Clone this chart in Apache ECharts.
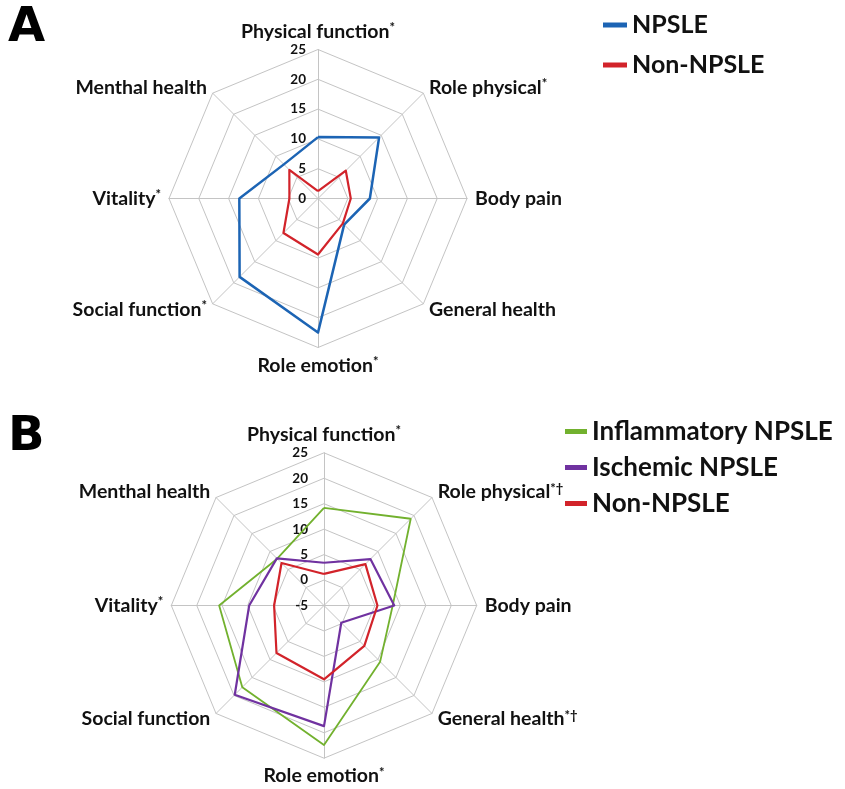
<!DOCTYPE html>
<html>
<head>
<meta charset="utf-8">
<script src="https://cdn.jsdelivr.net/npm/echarts@6/dist/echarts.min.js"></script>
<style>html,body{margin:0;padding:0;background:#fff}#c{width:845px;height:789px}</style>
</head>
<body>
<div id="c"></div>
<script>
// Axes listed clockwise from the top, as in the figure
const axesA = ['Physical function', 'Role physical', 'Body pain', 'General health', 'Role emotion', 'Social function', 'Vitality', 'Menthal health'];
const supA  = ['*', '*', '', '', '*', '*', '*', ''];
const axesB = ['Physical function', 'Role physical', 'Body pain', 'General health', 'Role emotion', 'Social function', 'Vitality', 'Menthal health'];
const supB  = ['*', '*\u2020', '', '*\u2020', '*', '', '*', ''];

const npsleA    = [10.3, 14.5, 8.7, 6.2, 22.5, 18.6, 13.2, 8.1];
const nonNpsleA = [1.25, 6.6, 5.5, 5.9, 9.4, 8.2, 4.8, 6.8];

const inflamB   = [14.2, 19.1, 8.5, 10.6, 22.4, 17.7, 15.6, 8.0];
const ischemB   = [3.4, 7.9, 8.8, -0.2, 18.7, 19.8, 9.7, 8.1];
const nonNpsleB = [1.2, 6.5, 5.5, 6.2, 9.5, 8.2, 4.8, 6.8];

const rangeA = [0, 25, 5];
const rangeB = [-5, 25, 5];

// ECharts places radar indicators counter-clockwise: reorder
const order = [0, 7, 6, 5, 4, 3, 2, 1];
const re = arr => order.map(i => arr[i]);

const FONT = 'Lato';
const grid = '#c4c4c4';

function radarCfg(axes, sup, range, center, radius) {
  return {
    center: center, radius: radius, shape: 'polygon', startAngle: 90,
    splitNumber: (range[1] - range[0]) / range[2],
    indicator: re(axes.map((n, i) => ({
      name: sup[i] ? n + '{s|' + sup[i] + '}' : n, min: range[0], max: range[1]
    }))),
    axisName: {
      color: '#111', fontFamily: FONT, fontWeight: 'bold', fontSize: 19.5,
      rich: { s: { fontSize: 13, fontFamily: FONT, fontWeight: 'bold', color: '#111', verticalAlign: 'top', lineHeight: 15 } }
    },
    nameGap: 8,
    axisLine: { lineStyle: { color: grid, width: 1 } },
    splitLine: { lineStyle: { color: grid, width: 1 } },
    splitArea: { show: false },
    axisTick: { show: false },
    axisLabel: { show: false }
  };
}

const chart = echarts.init(document.getElementById('c'), null, { renderer: 'canvas' });
const A = { cx: 318, cy: 198.5, r: 149 };
const B = { cx: 324, cy: 605.5, r: 152.7 };

const option = {
  backgroundColor: '#fff',
  animation: false,
  title: [
    { text: 'A', left: 3, top: 0, textStyle: { fontFamily: 'DejaVu Sans', fontWeight: 900, fontSize: 48, color: '#000' } },
    { text: 'B', left: 3, top: 409, textStyle: { fontFamily: 'DejaVu Sans', fontWeight: 900, fontSize: 48, color: '#000' } }
  ],
  legend: [
    { data: ['NPSLE', 'Non-NPSLE'], orient: 'vertical', left: 598, top: 5, icon: 'rect',
      itemWidth: 24, itemHeight: 5, itemGap: 10, selectedMode: false,
      textStyle: { fontFamily: FONT, fontWeight: 'bold', fontSize: 25, color: '#111', lineHeight: 30 } },
    { data: ['Inflammatory NPSLE', 'Ischemic NPSLE', { name: 'Non-NPSLE' }], orient: 'vertical', left: 560, top: 411, icon: 'rect',
      itemWidth: 22, itemHeight: 5, itemGap: 5, selectedMode: false,
      textStyle: { fontFamily: FONT, fontWeight: 'bold', fontSize: 26, color: '#111', lineHeight: 31 } }
  ],
  radar: [
    radarCfg(axesA, supA, rangeA, [A.cx, A.cy], A.r),
    radarCfg(axesB, supB, rangeB, [B.cx, B.cy], B.r)
  ],
  grid: [
    { left: A.cx, top: A.cy - A.r, width: 1, height: A.r, containLabel: false },
    { left: B.cx, top: B.cy - B.r, width: 1, height: B.r, containLabel: false }
  ],
  xAxis: [
    { gridIndex: 0, show: false, type: 'value' },
    { gridIndex: 1, show: false, type: 'value' }
  ],
  yAxis: [
    { gridIndex: 0, type: 'value', min: rangeA[0], max: rangeA[1], interval: rangeA[2],
      axisLine: { show: false }, axisTick: { show: false }, splitLine: { show: false },
      axisLabel: { margin: 12, fontFamily: FONT, fontWeight: 'bold', fontSize: 13.5, color: '#111' } },
    { gridIndex: 1, type: 'value', min: rangeB[0], max: rangeB[1], interval: rangeB[2],
      axisLine: { show: false }, axisTick: { show: false }, splitLine: { show: false },
      axisLabel: { margin: 16, fontFamily: FONT, fontWeight: 'bold', fontSize: 13.5, color: '#111' } }
  ],
  series: [
    { type: 'radar', radarIndex: 0, symbol: 'none',
      data: [
        { name: 'NPSLE', value: re(npsleA), lineStyle: { color: '#1c64b4', width: 2.5 }, itemStyle: { color: '#1c64b4' } },
        { name: 'Non-NPSLE', value: re(nonNpsleA), lineStyle: { color: '#d2232a', width: 2.2 }, itemStyle: { color: '#d2232a' } }
      ] },
    { type: 'radar', radarIndex: 1, symbol: 'none',
      data: [
        { name: 'Inflammatory NPSLE', value: re(inflamB), lineStyle: { color: '#72b12e', width: 1.8 }, itemStyle: { color: '#72b12e' } },
        { name: 'Ischemic NPSLE', value: re(ischemB), lineStyle: { color: '#7032a0', width: 2.2 }, itemStyle: { color: '#7032a0' } },
        { name: 'Non-NPSLE', value: re(nonNpsleB), lineStyle: { color: '#d2232a', width: 2.2 }, itemStyle: { color: '#d2232a' } }
      ] }
  ]
};
chart.setOption(option);
</script>
</body>
</html>
